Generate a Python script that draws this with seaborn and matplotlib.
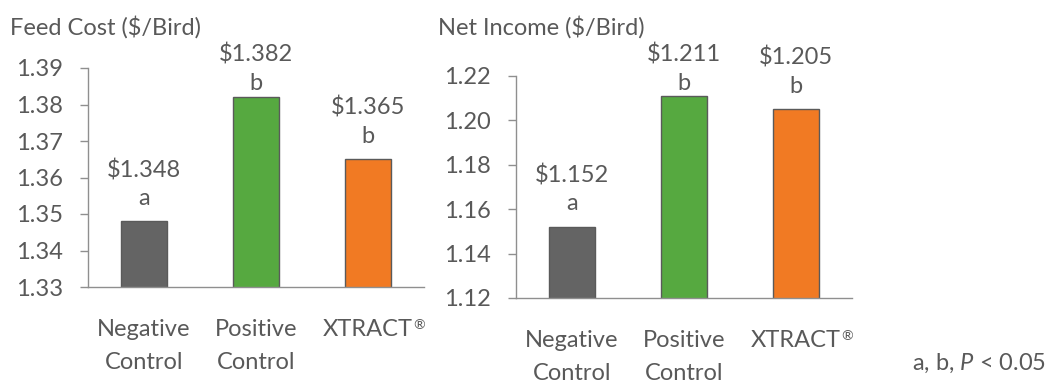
import matplotlib
matplotlib.use("Agg")
import matplotlib.pyplot as plt
import seaborn as sns
import pandas as pd
import numpy as np

# data
groups = ["Negative\nControl", "Positive\nControl", "XTRACT"]
feed_cost = [1.348, 1.382, 1.365]
feed_letters = ["a", "b", "b"]
net_income = [1.152, 1.211, 1.205]
net_letters = ["a", "b", "b"]
bar_colors = ["#646464", "#56A940", "#F17A23"]

sns.set_style("white")
plt.rcParams["font.family"] = ["Lato", "DejaVu Sans"]
plt.rcParams["mathtext.fontset"] = "custom"
plt.rcParams["mathtext.rm"] = "Lato"
plt.rcParams["mathtext.it"] = "Lato:italic"

txt = "#595959"
axc = "#8f8f8f"
fs = 17

fig = plt.figure(figsize=(10.53, 3.81), dpi=100)
ax1 = fig.add_axes([88 / 1053, 1 - 287 / 381, 336 / 1053, 219 / 381])
ax2 = fig.add_axes([516 / 1053, 1 - 298 / 381, 336 / 1053, 222 / 381])

value_labels = []


def draw(ax, vals, letters, ylo, yhi, step):
    df = pd.DataFrame({"group": groups, "value": vals})
    sns.barplot(data=df, x="group", y="value", hue="group", palette=bar_colors,
                saturation=1, width=0.41, edgecolor="#5a5a5a", linewidth=1.0,
                legend=False, ax=ax)
    ax.set_ylim(ylo, yhi)
    ax.set_yticks(np.round(np.arange(ylo, yhi + step / 2, step), 2))
    ax.set_yticklabels([f"{t:.2f}" for t in ax.get_yticks()])
    # ticks between the categories, labels centred under the bars
    ax.set_xlim(-0.5, 2.5)
    ax.set_xticks([-0.5, 0.5, 1.5, 2.5])
    ax.set_xticklabels([])
    ax.set_xticks([0, 1, 2], minor=True)
    ax.set_xticklabels(groups, minor=True)
    ax.tick_params(axis="x", which="minor", length=0, pad=23, labelsize=fs, labelcolor=txt)
    ax.tick_params(axis="x", which="major", length=6, width=1, color=axc, direction="out")
    ax.tick_params(axis="y", length=6, width=1, color=axc, pad=12, labelsize=fs,
                   labelcolor=txt, direction="out", left=True)
    labs = ax.get_xticklabels(minor=True)
    for lab in labs:
        lab.set_linespacing(1.72)
    # small registered mark after XTRACT
    ax.annotate("®", xy=(1, 1), xycoords=labs[2], ha="left", va="top",
                fontsize=fs * 0.6, color=txt)
    ax.set_xlabel("")
    ax.set_ylabel("")
    for s in ["top", "right"]:
        ax.spines[s].set_visible(False)
    for s in ["left", "bottom"]:
        ax.spines[s].set_color(axc)
        ax.spines[s].set_linewidth(1.0)
    for i, (v, l) in enumerate(zip(vals, letters)):
        t = ax.annotate(f"\\${v:.3f}\n{l}", (i, v), xytext=(0, 9), textcoords="offset points",
                        ha="center", va="bottom", fontsize=fs, color=txt, linespacing=1.4)
        value_labels.append(t)


draw(ax1, feed_cost, feed_letters, 1.33, 1.39, 0.01)
draw(ax2, net_income, net_letters, 1.12, 1.22, 0.02)

fig.text(10 / 1053, 1 - 27 / 381, "Feed Cost (\\$/Bird)", fontsize=fs, color=txt, va="center")
fig.text(438 / 1053, 1 - 27 / 381, "Net Income (\\$/Bird)", fontsize=fs, color=txt, va="center")
fig.text(1046 / 1053, 1 - 363 / 381, r"a, b, $\mathit{P}$ < 0.05", fontsize=fs, color=txt,
         ha="right", va="center")

# keep value labels below the titles, pushing the tall ones down a bit
fig.canvas.draw()
renderer = fig.canvas.get_renderer()
top_limit = 381 - 44
for t in value_labels:
    bb = t.get_window_extent(renderer)
    if bb.y1 > top_limit:
        dx, dy = t.xyann
        t.xyann = (dx, dy - (bb.y1 - top_limit) * 72 / fig.dpi)

fig.savefig("out.png", dpi=100)
